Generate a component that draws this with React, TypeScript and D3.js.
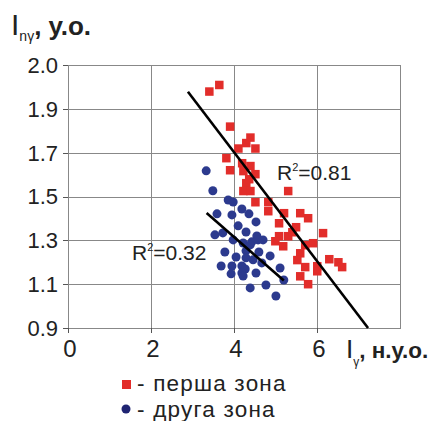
import React from "react";
import * as d3 from "d3";

// ---- data ----
const redX = [3.40, 3.64, 3.90, 4.39, 4.29, 4.10, 4.51, 3.81, 4.19, 4.39, 3.90, 4.22, 4.51, 4.36, 4.29, 4.22, 4.39, 5.30, 4.51, 4.82, 4.82, 5.20, 5.59, 5.78, 5.08, 5.49, 6.14, 5.08, 5.30, 5.40, 4.99, 5.18, 5.90, 5.71, 5.59, 5.52, 5.71, 6.00, 6.00, 6.29, 6.51, 6.60, 5.59, 5.78];
const redY = [1.98, 2.01, 1.82, 1.77, 1.745, 1.72, 1.72, 1.676, 1.653, 1.64, 1.621, 1.617, 1.603, 1.58, 1.562, 1.526, 1.526, 1.526, 1.475, 1.475, 1.434, 1.425, 1.425, 1.402, 1.379, 1.361, 1.334, 1.32, 1.32, 1.338, 1.297, 1.274, 1.288, 1.279, 1.242, 1.211, 1.179, 1.183, 1.16, 1.215, 1.201, 1.179, 1.137, 1.101];
const blueX = [3.33, 3.49, 3.86, 3.98, 3.59, 3.95, 4.19, 4.36, 4.53, 4.10, 3.54, 3.73, 4.29, 4.55, 3.98, 4.43, 4.58, 4.70, 4.22, 4.39, 3.78, 4.29, 4.60, 4.05, 4.29, 4.46, 4.87, 3.69, 3.95, 4.19, 4.27, 4.67, 3.93, 4.19, 4.22, 4.53, 5.11, 5.20, 4.77, 4.39, 5.01];
const blueY = [1.617, 1.526, 1.484, 1.475, 1.421, 1.416, 1.443, 1.421, 1.384, 1.366, 1.325, 1.334, 1.338, 1.32, 1.302, 1.293, 1.302, 1.302, 1.288, 1.279, 1.247, 1.252, 1.247, 1.224, 1.22, 1.211, 1.229, 1.183, 1.183, 1.183, 1.169, 1.197, 1.147, 1.151, 1.137, 1.151, 1.174, 1.119, 1.096, 1.083, 1.046];
// trend line end points [x0, y0, x1, y1]
const redTrend = [2.89, 1.978, 7.23, 0.9];
const blueTrend = [3.34, 1.425, 5.2, 1.117];
const redR2 = "0.81";
const blueR2 = "0.32";
const xTickValues = [0, 2, 4, 6];
const xGridValues = [2, 4, 6];
const yTickValues = [0.9, 1.1, 1.3, 1.5, 1.7, 1.9, 2.1];
const yTickLabels = ["0.9", "1.1", "1.3", "1.5", "1.7", "1.9", "2.0"];
const legendLabels = ["- перша зона", "- друга зона"];

const RED = "#e22d2a";
const BLUE = "#2c3a8e";
const GRID = "#888888";
const FONT = "'Liberation Sans', Arial, sans-serif";

export default function App() {
  const x = d3.scaleLinear().domain([0, 8]).range([68, 400]);
  const y = d3.scaleLinear().domain([0.9, 2.1]).range([328, 65]);
  const line = d3.line<number[]>().x((d) => x(d[0])).y((d) => y(d[1]));
  const crisp = (v: number) => Math.round(v) + 0.5;

  const [x0, x1] = x.range();
  const [yb, yt] = y.range();

  return (
    <svg
      width={448}
      height={421}
      style={{ position: "absolute", left: 0, top: 0, background: "#fff" }}
      fontFamily={FONT}
    >
      <rect x={0} y={0} width={448} height={421} fill="#fff" />
      {/* horizontal grid */}
      {yTickValues.map((v) => (
        <line key={"hg" + v} x1={x0} x2={x1} y1={crisp(y(v))} y2={crisp(y(v))} stroke={GRID} strokeWidth={1} />
      ))}
      {/* vertical grid */}
      {xGridValues.map((v) => (
        <line key={"vg" + v} x1={crisp(x(v))} x2={crisp(x(v))} y1={yt} y2={yb} stroke={GRID} strokeWidth={1} />
      ))}
      {/* plot border */}
      <rect x={crisp(x0)} y={crisp(yt)} width={Math.round(x1 - x0)} height={Math.round(yb - yt)} fill="none" stroke={GRID} strokeWidth={1} />
      {/* y ticks */}
      {yTickValues.map((v, i) => (
        <g key={"yt" + v}>
          <line x1={x0 - 5} x2={x0} y1={crisp(y(v))} y2={crisp(y(v))} stroke="#555" />
          <text x={58} y={y(v)} dy="0.36em" textAnchor="end" fontSize={22} fill="#222">
            {yTickLabels[i]}
          </text>
        </g>
      ))}
      {/* x ticks */}
      {xTickValues.map((v) => (
        <g key={"xt" + v}>
          <line x1={crisp(x(v))} x2={crisp(x(v))} y1={yb} y2={yb + 5} stroke="#555" />
          <text x={x(v) + 2} y={357} textAnchor="middle" fontSize={24} fill="#222">
            {String(v)}
          </text>
        </g>
      ))}
      {/* red points */}
      {redX.map((v, i) => (
        <rect key={"r" + i} x={x(v) - 4} y={y(redY[i]) - 4} width={8.5} height={8.5} fill={RED} />
      ))}
      {/* blue points */}
      {blueX.map((v, i) => (
        <circle key={"b" + i} cx={x(v)} cy={y(blueY[i])} r={4.5} fill={BLUE} />
      ))}
      {/* trend lines */}
      <path d={line([[redTrend[0], redTrend[1]], [redTrend[2], redTrend[3]]]) || ""} stroke="#000" strokeWidth={2.6} fill="none" />
      <path d={line([[blueTrend[0], blueTrend[1]], [blueTrend[2], blueTrend[3]]]) || ""} stroke="#000" strokeWidth={2.6} fill="none" />
      {/* R2 labels */}
      <text x={277} y={180} fontSize={21} fill="#222">
        R<tspan fontSize={11} dy={-9}>2</tspan>
        <tspan dy={9}>={redR2}</tspan>
      </text>
      <text x={132} y={260} fontSize={21} fill="#222">
        R<tspan fontSize={11} dy={-9}>2</tspan>
        <tspan dy={9}>={blueR2}</tspan>
      </text>
      {/* y axis title */}
      <text x={11} y={35} fill="#222">
        <tspan fontSize={30}>I</tspan>
        <tspan fontSize={14} dy={6}>nγ</tspan>
        <tspan fontSize={26} fontWeight="bold" dy={-6}>, у.о.</tspan>
      </text>
      {/* x axis title */}
      <text x={346} y={358} fill="#222">
        <tspan fontSize={26}>I</tspan>
        <tspan fontSize={12} dy={8}>γ</tspan>
        <tspan fontSize={22.5} fontWeight="bold" dy={-8}>, н.у.о.</tspan>
      </text>
      {/* legend */}
      <rect x={122} y={380} width={9} height={9} fill={RED} />
      <text x={137} y={391} fontSize={22.5} letterSpacing={1.2} fill="#222">{legendLabels[0]}</text>
      <circle cx={126} cy={409} r={4.5} fill="#1f2472" />
      <text x={137} y={417} fontSize={22.5} letterSpacing={1.2} fill="#222">{legendLabels[1]}</text>
    </svg>
  );
}
